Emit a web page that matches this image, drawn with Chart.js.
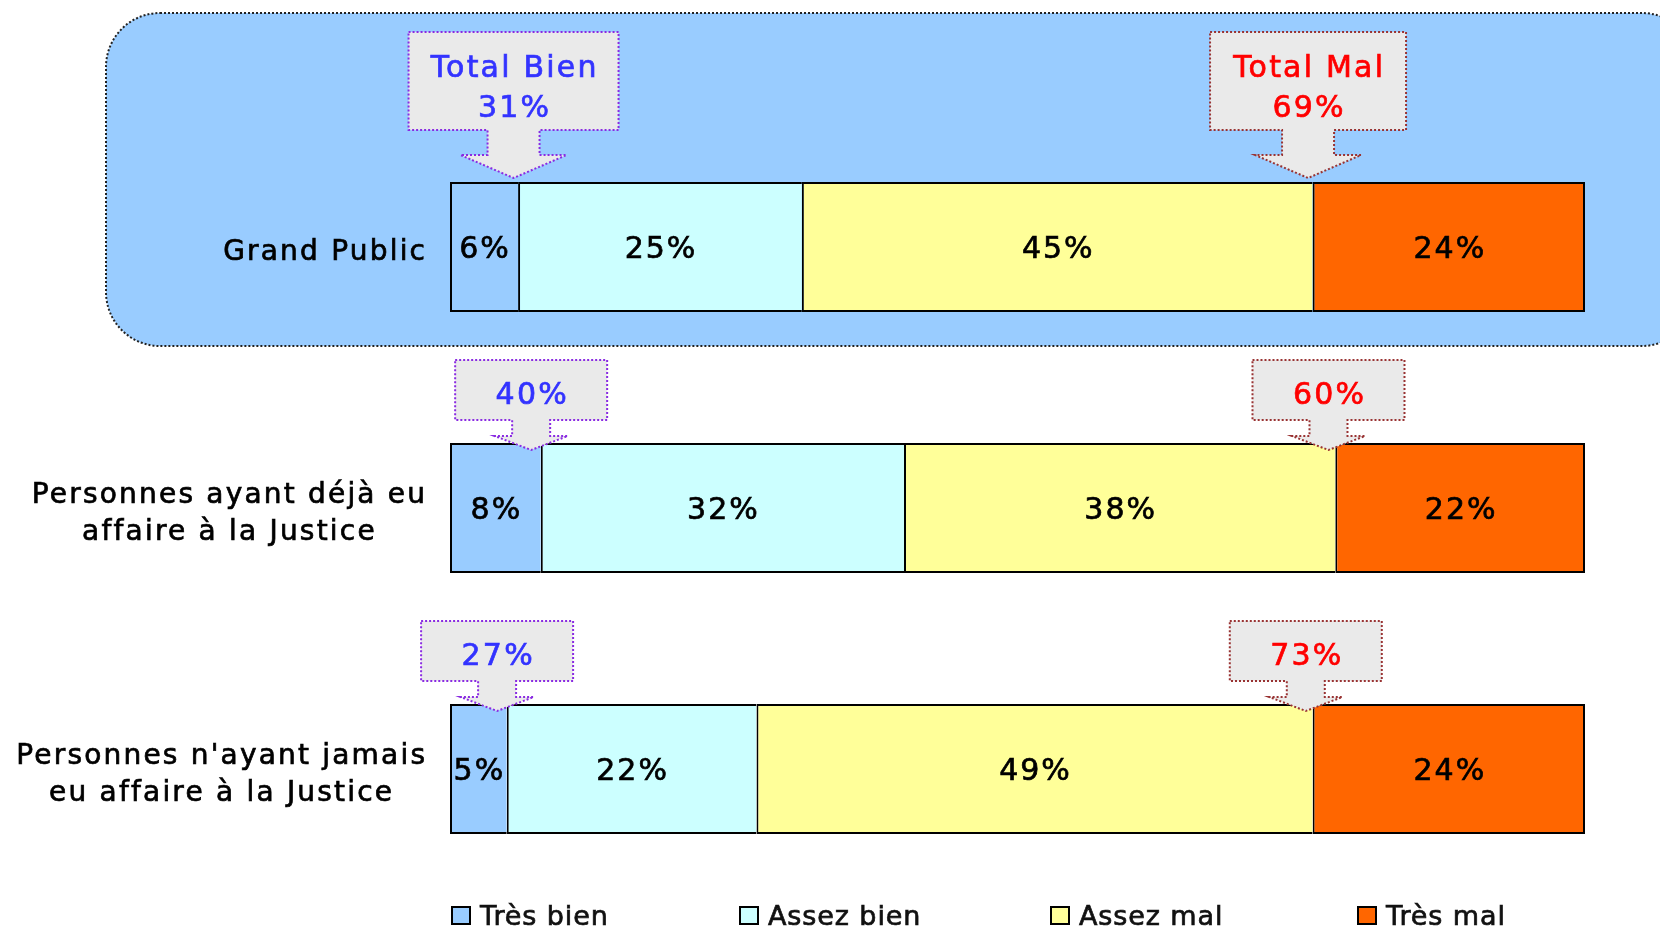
<!DOCTYPE html>
<html>
<head>
<meta charset="utf-8">
<script src="https://cdn.jsdelivr.net/npm/chart.js@4"></script>
<style>
    body { margin: 0; background: #ffffff; }
    canvas { display: block; }
</style>
</head>
<body>
<canvas id="grafico" width="1660" height="928"></canvas>
<script>
const categories = [
    ['Grand Public'],
    ['Personnes ayant déjà eu', 'affaire à la Justice'],
    ["Personnes n'ayant jamais", 'eu affaire à la Justice']
];
const seriesNames = ['Très bien', 'Assez bien', 'Assez mal', 'Très mal'];
const tresBien = [6, 8, 5];
const assezBien = [25, 32, 22];
const assezMal = [45, 38, 49];
const tresMal = [24, 22, 24];
const totalBien = [31, 40, 27];
const totalMal = [69, 60, 73];
const calloutTitles = ['Total Bien', 'Total Mal'];

const couleurs = ['#99CCFF', '#CCFFFF', '#FFFF99', '#FF6600'];
const FONT = "'DejaVu Sans', Verdana, sans-serif";

function texte(ctx, str, x, y, size, color, align, spacing) {
    ctx.save();
    ctx.font = size + 'px ' + FONT;
    ctx.fillStyle = color;
    ctx.strokeStyle = color;
    ctx.lineWidth = 0.7;
    ctx.letterSpacing = spacing + 'px';
    ctx.textBaseline = 'alphabetic';
    // letterSpacing adds space after the last char too, compensate
    let w = ctx.measureText(str).width;
    let x0 = x;
    if (align === 'center') x0 = x - w / 2 + spacing / 2;
    if (align === 'right') x0 = x - w + spacing;
    ctx.textAlign = 'left';
    ctx.fillText(str, x0, y);
    ctx.strokeText(str, x0, y);
    ctx.restore();
    return w - spacing;
}

// fond bleu arrondi derriere la premiere ligne
const fondPlugin = {
    id: 'fond',
    beforeDatasetsDraw(chart) {
        const ctx = chart.ctx;
        ctx.save();
        ctx.beginPath();
        ctx.roundRect(106, 13, 1590, 333, 54);
        ctx.fillStyle = '#99CCFF';
        ctx.fill();
        ctx.setLineDash([2, 2]);
        ctx.lineWidth = 2;
        ctx.strokeStyle = '#222222';
        ctx.stroke();
        ctx.restore();
    }
};

function fleche(ctx, cx, barTop, big, bw, fill, stroke) {
    const bh = big ? 98 : 60;
    const sw = big ? 52 : 38;
    const ww = big ? 106 : 73;
    const sl = big ? 25 : 16;
    const hh = big ? 23 : 14;
    const tipY = big ? barTop - 4 : barTop + 7;
    const bottom = tipY - hh - sl;
    const top = bottom - bh;
    ctx.save();
    ctx.beginPath();
    ctx.moveTo(cx - bw / 2, top);
    ctx.lineTo(cx + bw / 2, top);
    ctx.lineTo(cx + bw / 2, bottom);
    ctx.lineTo(cx + sw / 2, bottom);
    ctx.lineTo(cx + sw / 2, bottom + sl);
    ctx.lineTo(cx + ww / 2, bottom + sl);
    ctx.lineTo(cx, tipY);
    ctx.lineTo(cx - ww / 2, bottom + sl);
    ctx.lineTo(cx - sw / 2, bottom + sl);
    ctx.lineTo(cx - sw / 2, bottom);
    ctx.lineTo(cx - bw / 2, bottom);
    ctx.closePath();
    ctx.fillStyle = fill;
    ctx.fill();
    ctx.setLineDash([2, 2]);
    ctx.lineWidth = 2;
    ctx.strokeStyle = stroke;
    ctx.stroke();
    ctx.restore();
    return { top: top, bottom: bottom };
}

const annotPlugin = {
    id: 'annot',
    afterDatasetsDraw(chart) {
        const ctx = chart.ctx;
        const xs = chart.scales.x;

        // valeurs dans les barres
        chart.data.datasets.forEach((ds, d) => {
            const meta = chart.getDatasetMeta(d);
            meta.data.forEach((bar, i) => {
                const cx = (bar.x + bar.base) / 2;
                texte(ctx, ds.data[i] + '%', cx, bar.y + 11, 30, '#000000', 'center', 2);
            });
        });

        // fleches Total Bien / Total Mal
        const meta0 = chart.getDatasetMeta(0);
        meta0.data.forEach((bar, i) => {
            const barTop = bar.y - bar.height / 2;
            const big = i === 0;
            const xb = xs.getPixelForValue(tresBien[i] - (big ? 0.4 : 0.85));
            const xm = xs.getPixelForValue(100 - tresMal[i] - (big ? 0.4 : 0.6));
            const b1 = fleche(ctx, xb, barTop, big, big ? 210 : 152, '#EAEAEA', '#8A2BE2');
            const b2 = fleche(ctx, xm, barTop, big, big ? 196 : 152, '#EAEAEA', '#993333');
            if (big) {
                texte(ctx, calloutTitles[0], xb, b1.top + 45, 30, '#3333FF', 'center', 2.2);
                texte(ctx, totalBien[i] + '%', xb, b1.top + 85, 30, '#3333FF', 'center', 2.2);
                texte(ctx, calloutTitles[1], xm, b2.top + 45, 30, '#FF0000', 'center', 2.2);
                texte(ctx, totalMal[i] + '%', xm, b2.top + 85, 30, '#FF0000', 'center', 2.2);
            } else {
                const mid1 = (b1.top + b1.bottom) / 2 + 14;
                texte(ctx, totalBien[i] + '%', xb, mid1, 30, '#3333FF', 'center', 2.2);
                texte(ctx, totalMal[i] + '%', xm, mid1, 30, '#FF0000', 'center', 2.2);
            }
        });
    },
    afterDraw(chart) {
        const ctx = chart.ctx;
        const ys = chart.scales.y;

        // libelles des categories (bloc aligne a droite, lignes centrees)
        categories.forEach((lines, i) => {
            const cy = ys.getPixelForValue(i);
            ctx.save();
            ctx.font = '28px ' + FONT;
            ctx.letterSpacing = '2.2px';
            let maxW = 0;
            lines.forEach(l => { maxW = Math.max(maxW, ctx.measureText(l).width - 2.2); });
            ctx.restore();
            const centre = 425 - maxW / 2;
            const lh = 37;
            const y0 = cy - (lines.length - 1) * lh / 2 + 13;
            lines.forEach((l, k) => {
                texte(ctx, l, centre, y0 + k * lh, 28, '#000000', 'center', 2.2);
            });
        });

        // legende en bas
        const legX = [452, 740, 1051, 1358];
        seriesNames.forEach((nom, k) => {
            ctx.save();
            ctx.fillStyle = couleurs[k];
            ctx.fillRect(legX[k], 907, 18, 17);
            ctx.lineWidth = 2;
            ctx.strokeStyle = '#000000';
            ctx.strokeRect(legX[k], 907, 18, 17);
            ctx.restore();
            texte(ctx, nom, legX[k] + 28, 925, 27, '#111111', 'left', 0.9);
        });
    }
};

const valeurs = [tresBien, assezBien, assezMal, tresMal];
const datasets = seriesNames.map((nom, k) => ({
    label: nom,
    data: valeurs[k],
    backgroundColor: couleurs[k],
    borderColor: '#000000',
    borderWidth: { top: 2, bottom: 2, left: 2, right: k === 3 ? 2 : 0 },
    borderSkipped: false,
    categoryPercentage: 1,
    barPercentage: 0.498
}));

new Chart(document.getElementById('grafico'), {
    type: 'bar',
    data: {
        labels: categories,
        datasets: datasets
    },
    options: {
        indexAxis: 'y',
        responsive: false,
        animation: false,
        layout: {
            padding: { left: 450, right: 75, top: 116.5, bottom: 28.5 }
        },
        scales: {
            x: { stacked: true, min: 0, max: 100, display: false },
            y: { stacked: true, display: false }
        },
        plugins: {
            legend: { display: false },
            tooltip: { enabled: false }
        }
    },
    plugins: [fondPlugin, annotPlugin]
});
</script>
</body>
</html>
